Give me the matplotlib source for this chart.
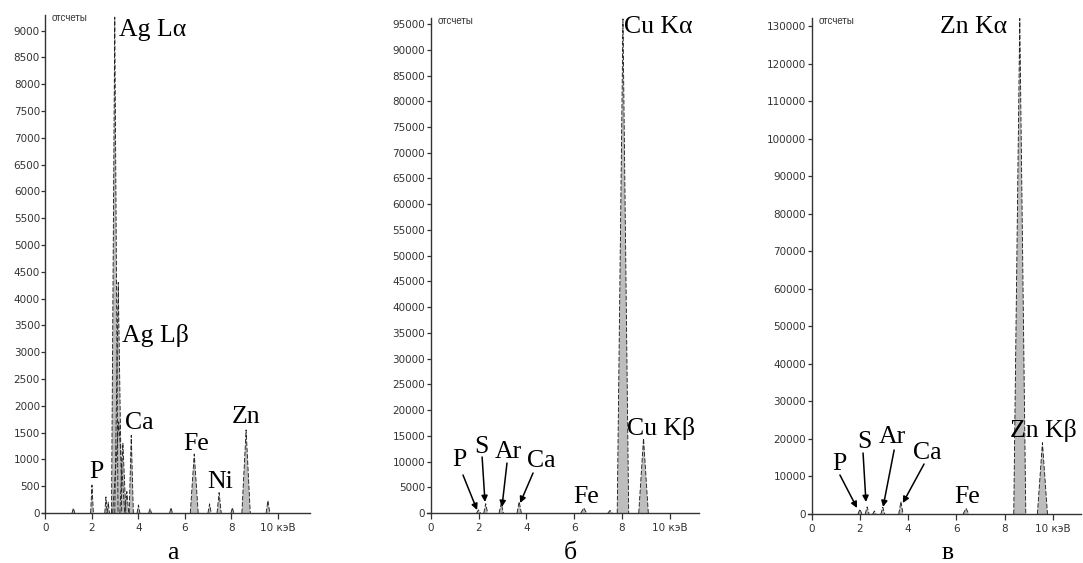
import matplotlib.pyplot as plt

# EDX spectra: peak energy (keV), peak counts, half-width of the peak (keV)
energy_a = [1.2, 2.0, 2.6, 2.7, 2.98, 3.13, 3.15, 3.33, 3.5, 3.69, 4.0, 4.5, 5.4, 6.4, 7.06, 7.47, 8.04, 8.63, 9.57]
counts_a = [90, 520, 300, 200, 9250, 4300, 1700, 1300, 400, 1450, 150, 80, 100, 1100, 170, 380, 100, 1550, 230]
halfw_a = [0.06, 0.06, 0.05, 0.05, 0.14, 0.15, 0.26, 0.13, 0.08, 0.09, 0.06, 0.06, 0.06, 0.17, 0.07, 0.09, 0.06, 0.18, 0.08]

energy_b = [2.0, 2.3, 2.95, 3.7, 6.4, 7.5, 8.04, 8.9]
counts_b = [600, 1800, 1900, 2200, 1000, 500, 96000, 14500]
halfw_b = [0.08, 0.08, 0.09, 0.09, 0.12, 0.09, 0.24, 0.2]

energy_c = [2.0, 2.3, 2.6, 2.95, 3.7, 6.4, 8.63, 9.57]
counts_c = [1300, 1900, 800, 1800, 3300, 1500, 132000, 19000]
halfw_c = [0.08, 0.08, 0.07, 0.08, 0.09, 0.12, 0.25, 0.21]

yticks_a = list(range(0, 9001, 500))
yticks_b = list(range(0, 95001, 5000))
yticks_c = list(range(0, 130001, 10000))
xticks = [0, 2, 4, 6, 8, 10]
xticklabels = ['0', '2', '4', '6', '8', '10 кэВ']

# element labels: text, x, y (baseline)
labels_a = [('Ag L\u03b1', 3.16, 8900), ('Ag L\u03b2', 3.29, 3190), ('Ca', 3.42, 1567),
            ('Fe', 5.91, 1175), ('Ni', 6.95, 466), ('Zn', 8.02, 1680), ('P', 1.87, 653)]
labels_b = [('Cu K\u03b1', 8.09, 93300), ('Cu K\u03b2', 8.21, 15150), ('P', 0.89, 9130),
            ('S', 1.81, 11650), ('Ar', 2.69, 10700), ('Ca', 4.03, 8940), ('Fe', 5.96, 1950)]
labels_c = [('Zn K\u03b1', 5.32, 128100), ('Zn K\u03b2', 8.23, 20500), ('P', 0.84, 11700),
            ('S', 1.88, 17600), ('Ar', 2.79, 18900), ('Ca', 4.2, 14650), ('Fe', 5.9, 2930)]

# arrows: (tail x, tail y, tip x, tip y)
arrows_b = [(1.35, 7380, 1.94, 580), (2.15, 10880, 2.27, 2140),
            (3.19, 9700, 2.98, 1170), (4.28, 7770, 3.74, 1940)]
arrows_c = [(1.17, 10390, 1.88, 1600), (2.13, 16250, 2.25, 3200),
            (3.42, 17050, 2.96, 1870), (4.66, 13320, 3.78, 2930)]

W, H = 1083, 563
fig = plt.figure(figsize=(W / 100, H / 100), dpi=100)

serif = ['Liberation Serif', 'DejaVu Serif']
sans = ['Liberation Sans', 'DejaVu Sans']


def make_panel(x0, px_per_kev, xmax, y0_px, top_px, ymax, right_px):
    # axes placed by pixel geometry of the reference
    xmin = -0.15
    left = x0 + xmin * px_per_kev
    ax = fig.add_axes([left / W, (H - y0_px) / H, (right_px - left) / W, (y0_px - top_px) / H])
    ax.set_xlim(xmin, xmax)
    ax.set_ylim(0, ymax)
    ax.patch.set_alpha(0)
    for s in ['top', 'right']:
        ax.spines[s].set_visible(False)
    ax.spines['left'].set_position(('data', 0))
    for s in ['left', 'bottom']:
        ax.spines[s].set_color('#333333')
        ax.spines[s].set_linewidth(1.0)
    ax.tick_params(axis='y', direction='out', length=3, width=0.9, pad=1,
                   labelsize=7.5, colors='#333333')
    ax.tick_params(axis='x', direction='out', length=4, width=0.9, pad=3,
                   labelsize=7.5, colors='#333333')
    ax.text(0.27, 1.005, 'отсчеты', transform=ax.get_xaxis_transform(), fontsize=7,
            family=sans, color='#333333', ha='left', va='top')
    return ax


def draw_peaks(ax, energy, counts, halfw):
    for e, c, w in zip(energy, counts, halfw):
        xs = [e - w, e, e + w]
        ys = [0, c, 0]
        ax.fill(xs, ys, facecolor='#bdbdbd', edgecolor='none', zorder=2)
        ax.plot(xs, ys, color='#222222', lw=0.65, ls=(0, (5, 2)), zorder=3)


def draw_labels(ax, labels):
    for t, x, y in labels:
        ax.text(x, y, t, family=serif, fontsize=18.5, ha='left', va='baseline', zorder=4)


def draw_arrows(ax, arrows):
    for x1, y1, x2, y2 in arrows:
        ax.annotate('', xy=(x2, y2), xytext=(x1, y1),
                    arrowprops=dict(arrowstyle='-|>', color='black', lw=1.1,
                                    mutation_scale=9, shrinkA=0, shrinkB=0))


# panel a
ax_a = make_panel(45.5, 23.25, 11.38, 513, 15, 9290, 310)
draw_peaks(ax_a, energy_a, counts_a, halfw_a)
draw_labels(ax_a, labels_a)
ax_a.set_yticks(yticks_a)
ax_a.set_xticks(xticks)
ax_a.set_xticklabels(xticklabels)

# panel b
ax_b = make_panel(430.7, 23.9, 11.22, 513, 18, 96180, 699)
draw_peaks(ax_b, energy_b, counts_b, halfw_b)
draw_labels(ax_b, labels_b)
draw_arrows(ax_b, arrows_b)
ax_b.set_yticks(yticks_b)
ax_b.set_xticks(xticks)
ax_b.set_xticklabels(xticklabels)

# panel c
ax_c = make_panel(811.7, 24.1, 11.17, 514, 18, 132130, 1081)
draw_peaks(ax_c, energy_c, counts_c, halfw_c)
draw_labels(ax_c, labels_c)
draw_arrows(ax_c, arrows_c)
ax_c.set_yticks(yticks_c)
ax_c.set_xticks(xticks)
ax_c.set_xticklabels(xticklabels)

# panel letters
for letter, xc in [('а', 173), ('б', 570), ('в', 948)]:
    fig.text(xc / W, (H - 553) / H, letter, family=serif, fontsize=18.5, ha='center', va='center')

fig.savefig('out.png', dpi=100)
